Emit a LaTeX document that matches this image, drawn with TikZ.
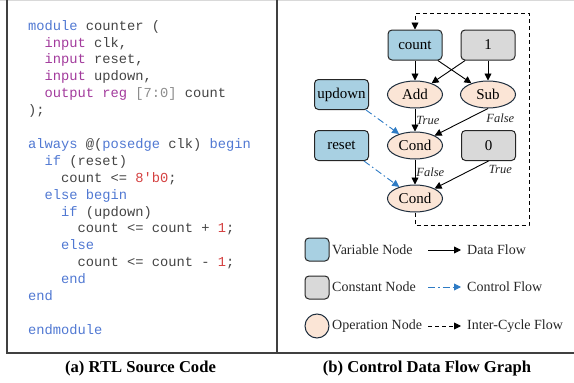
\documentclass[tikz,border=0pt]{standalone}
\usepackage{fontspec}
\setmainfont{Liberation Serif}
\setmonofont{Liberation Mono}
\usepackage{xcolor}
\usetikzlibrary{arrows.meta, positioning, shapes.geometric}

\definecolor{varblue}{HTML}{A8D0E2}
\definecolor{constgray}{HTML}{D9D9D9}
\definecolor{oppeach}{HTML}{FBE5D6}
\definecolor{opborder}{HTML}{1E2E3E}
\definecolor{ctrlblue}{HTML}{2E7BC4}
\definecolor{kwblue}{HTML}{5078D2}
\definecolor{typurple}{HTML}{A23A9C}
\definecolor{numred}{HTML}{D44040}
\definecolor{codegray}{HTML}{444444}

% code colouring
\newcommand{\kw}[1]{\textcolor{kwblue}{#1}}
\newcommand{\ty}[1]{\textcolor{typurple}{#1}}
\newcommand{\nm}[1]{\textcolor{numred}{#1}}
\newcommand{\rng}[1]{\textcolor{black!45}{#1}}
\newcommand{\ind}[1]{\hspace*{#1em}}

\begin{document}
\begin{tikzpicture}[x=1pt, y=-1pt,
    varnode/.style={draw=black!85, fill=varblue, rounded corners=4pt, line width=1pt, minimum width=54pt, minimum height=30pt, inner sep=1pt, font=\fontsize{15}{17}\selectfont},
    constnode/.style={varnode, fill=constgray},
    opnode/.style={ellipse, draw=opborder, fill=oppeach, line width=1pt, minimum width=55pt, minimum height=27pt, inner sep=0pt, font=\fontsize{15}{17}\selectfont},
    dataflow/.style={-{Triangle[length=7pt, width=7pt]}, line width=0.9pt},
    ctrlflow/.style={dataflow, draw=ctrlblue, dash pattern=on 7pt off 3pt on 1.5pt off 3pt},
    cycleflow/.style={dataflow, dash pattern=on 4pt off 3pt},
    lbl/.style={font=\fontsize{12.5}{14}\selectfont\itshape, text=black!85, inner sep=1pt},
    keytext/.style={font=\fontsize{14}{16}\selectfont, text=black!85, anchor=west, inner sep=0pt},
    caption/.style={font=\fontsize{16.6}{19}\selectfont\bfseries},
    ]
    \useasboundingbox (0,0) rectangle (574,383);

    % frame round the two panels
    \draw[black!15, line width=0.8pt] (0,0.4) -- (574,0.4);
    \draw[black!75, line width=1.1pt] (7,0) -- (7,353) -- (574,353);
    \draw[black!75, line width=1.1pt] (277,0) -- (277,353);

    % (a) RTL source
    \node[anchor=north west, align=left, inner sep=0pt, text=codegray,
          font=\fontsize{13.75}{16.9}\selectfont\ttfamily] (src) at (28,20) {%
        \kw{module} counter (\\
        \ind{1.2}\ty{input} clk,\\
        \ind{1.2}\ty{input} reset,\\
        \ind{1.2}\ty{input} updown,\\
        \ind{1.2}\ty{output} \ty{reg} \rng{[7:0]} count\\
        );\\
        \mbox{}\\
        \kw{always} @(\kw{posedge} clk) \kw{begin}\\
        \ind{1.2}\kw{if} (reset)\\
        \ind{2.4}count <= \nm{8'b0};\\
        \ind{1.2}\kw{else} \kw{begin}\\
        \ind{2.4}\kw{if} (updown)\\
        \ind{3.6}count <= count + \nm{1};\\
        \ind{2.4}\kw{else}\\
        \ind{3.6}count <= count - \nm{1};\\
        \ind{2.4}\kw{end}\\
        \kw{end}\\
        \mbox{}\\
        \kw{endmodule}};

    % (b) graph: top row
    \node[varnode] (count) at (415,45) {count};
    \node[constnode, right=18pt of count] (one) {1};

    % operations
    \node[opnode, below=20pt of count] (add) {Add};
    \node[opnode, below=20pt of one] (sub) {Sub};
    \node[varnode, left=18pt of add] (updown) {updown};
    \node[opnode, below=23pt of add] (cond1) {Cond};
    \node[constnode, right=18pt of cond1] (zero) {0};
    \node[varnode, left=18pt of cond1] (reset) {reset};
    \node[opnode, below=25pt of cond1] (cond2) {Cond};

    % data flow
    \draw[dataflow] (count) -- (add);
    \draw[dataflow] (count) -- (sub);
    \draw[dataflow] (one) -- (add);
    \draw[dataflow] (one) -- (sub);
    \draw[dataflow] (add) -- node[lbl, right] {True} (cond1);
    \draw[dataflow] (sub.south) -- node[lbl, at start, anchor=north west, xshift=-3pt, yshift=-4pt] {False} (cond1);
    \draw[dataflow] (cond1) -- node[lbl, right] {False} (cond2);
    \draw[dataflow] (zero.south) -- node[lbl, at start, anchor=north west, xshift=-1pt, yshift=-3pt] {True} (cond2);

    % control flow
    \draw[ctrlflow] ([xshift=-3pt]updown.south east) -- (cond1);
    \draw[ctrlflow] ([xshift=-5pt]reset.south east) -- (cond2);

    % back to count in the next cycle
    \coordinate (loopb) at (529,225);
    \coordinate (loopt) at (529,13);
    \draw[cycleflow] (cond2.south) |- (loopb) -- (loopt) -| (count.north);

    % legend
    \node[varnode, minimum width=24pt, minimum height=23pt] (varkey) at (317,249.5) {};
    \node[constnode, minimum width=24pt, minimum height=23pt] (constkey) at (317,287.5) {};
    \node[opnode, circle, minimum size=24pt] (opkey) at (317,326) {};
    \node[keytext] (vartext) at (332,250) {Variable Node};
    \node[keytext] (consttext) at (332,287) {Constant Node};
    \node[keytext] (optext) at (332,326) {Operation Node};

    \node[keytext] (datatext) at (467,250) {Data Flow};
    \node[keytext] (ctrltext) at (467,287) {Control Flow};
    \node[keytext] (cycletext) at (467,326) {Inter-Cycle Flow};
    \coordinate (datafrom) at (428,250);
    \coordinate (ctrlfrom) at (428,287);
    \coordinate (cyclefrom) at (428,326);
    \draw[dataflow] (datafrom) -- (datatext.west -| 461,0);
    \draw[ctrlflow] (ctrlfrom) -- (ctrltext.west -| 461,0);
    \draw[cycleflow] (cyclefrom) -- (cycletext.west -| 461,0);

    % captions
    \node[caption] (capa) at (140.5,369) {(a) RTL Source Code};
    \node[caption] (capb) at (427,369) {(b) Control Data Flow Graph};
\end{tikzpicture}
\end{document}
